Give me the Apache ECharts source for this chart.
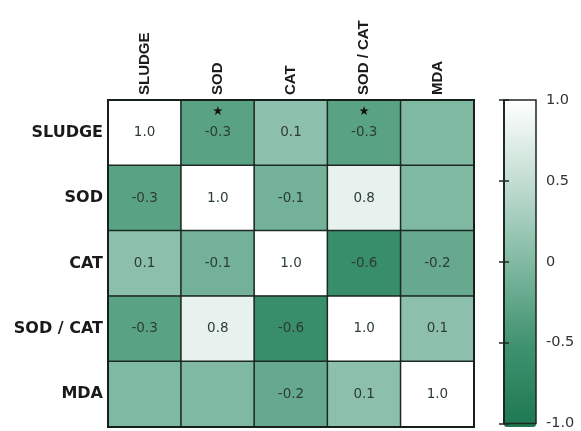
<!DOCTYPE html>
<html>
<head>
<meta charset="utf-8">
<script src="https://cdn.jsdelivr.net/npm/echarts@6/dist/echarts.min.js"></script>
<style>
  html, body { margin: 0; padding: 0; background: #ffffff; }
  #chart { width: 581px; height: 431px; }
</style>
</head>
<body>
<div id="chart"></div>
<script>
// Variables of the correlation matrix (rows top to bottom, columns left to right)
const variables = ['SLUDGE', 'SOD', 'CAT', 'SOD / CAT', 'MDA'];

// Correlation coefficients, one array per row
const rowSludge = [1.0, -0.3, 0.1, -0.3, 0.0];
const rowSod    = [-0.3, 1.0, -0.1, 0.8, 0.0];
const rowCat    = [0.1, -0.1, 1.0, -0.6, -0.2];
const rowSodCat = [-0.3, 0.8, -0.6, 1.0, 0.1];
const rowMda    = [0.0, 0.0, -0.2, 0.1, 1.0];
const corrRows = [rowSludge, rowSod, rowCat, rowSodCat, rowMda];

// Cells shown without a number, as [row, column]
const unlabeledCells = [[0, 4], [1, 4], [4, 0], [4, 1]];
// Cells flagged as significant, as [row, column]
const starredCells = [[0, 1], [0, 3]];

// Colour bar ticks
const barTicks = [-1.0, -0.5, 0, 0.5, 1.0];
const barTickLabels = ['-1.0', '-0.5', '0', '0.5', '1.0'];

const isIn = (list, r, c) => list.some(p => p[0] === r && p[1] === c);

const cells = [];
corrRows.forEach((row, r) => {
  row.forEach((v, c) => cells.push([c, r, v]));
});

const chart = echarts.init(document.getElementById('chart'), null, { renderer: 'canvas' });

const heatGrid = { left: 108, top: 100, width: 366, height: 327 };
const barGrid = { left: 504, top: 100, width: 32, height: 327 };

chart.setOption({
  animation: false,
  backgroundColor: '#ffffff',
  grid: [
    Object.assign({
      show: true, z: 10, backgroundColor: 'transparent',
      borderColor: '#17211c', borderWidth: 2
    }, heatGrid),
    Object.assign({
      show: true, z: 10, backgroundColor: 'transparent',
      borderColor: '#1e2622', borderWidth: 1.5
    }, barGrid)
  ],
  xAxis: [
    {
      type: 'category', gridIndex: 0, data: variables, position: 'top',
      axisLine: { show: false }, axisTick: { show: false },
      splitLine: { show: false },
      axisLabel: {
        rotate: -90, margin: 5, interval: 0,
        fontFamily: 'Liberation Sans', fontWeight: 'bold', fontSize: 15, color: '#1a1a1a'
      }
    },
    {
      type: 'value', gridIndex: 1, min: 0, max: 1, show: false
    }
  ],
  yAxis: [
    {
      type: 'category', gridIndex: 0, data: variables, inverse: true,
      axisLine: { show: false }, axisTick: { show: false },
      splitLine: { show: false },
      axisLabel: {
        margin: 5, interval: 0,
        fontFamily: 'DejaVu Sans', fontWeight: 'bold', fontSize: 16, color: '#1a1a1a'
      }
    },
    {
      type: 'value', gridIndex: 1, position: 'right', min: -1, max: 1, interval: 0.5, z: 10,
      axisLine: { show: true, lineStyle: { color: '#1e2622', width: 1.5 } },
      axisTick: { show: true, inside: true, length: 5, lineStyle: { color: '#1e2622', width: 1.5 } },
      splitLine: { show: false },
      axisLabel: {
        margin: 10, fontFamily: 'DejaVu Sans', fontSize: 14.5, color: '#333333',
        formatter: v => {
          const i = barTicks.findIndex(t => Math.abs(t - v) < 1e-9);
          return i >= 0 ? barTickLabels[i] : '';
        }
      }
    },
    {
      type: 'value', gridIndex: 1, position: 'left', min: -1, max: 1, interval: 0.5, z: 10,
      axisLine: { show: true, lineStyle: { color: '#1e2622', width: 1.5 } },
      axisTick: { show: true, inside: true, length: 5, lineStyle: { color: '#1e2622', width: 1.5 } },
      splitLine: { show: false },
      axisLabel: { show: false }
    }
  ],
  visualMap: {
    type: 'continuous',
    seriesIndex: 0,
    min: -1, max: 1,
    calculable: false,
    hoverLink: false,
    orient: 'vertical',
    left: barGrid.left, top: barGrid.top,
    itemWidth: barGrid.width, itemHeight: barGrid.height,
    padding: 0,
    text: null,
    showLabel: false,
    z: 2,
    inRange: { color: ['#1d7850', '#3f9270', '#80b9a2', '#c2ddd2', '#ffffff'] }
  },
  series: [{
    type: 'heatmap',
    xAxisIndex: 0, yAxisIndex: 0,
    data: cells,
    itemStyle: { borderColor: '#1c2a23', borderWidth: 1.5 },
    emphasis: { disabled: true },
    label: {
      show: true,
      formatter: p => {
        const c = p.value[0], r = p.value[1];
        if (isIn(unlabeledCells, r, c)) return '';
        const txt = p.value[2].toFixed(1);
        // starred values get a blank line underneath so the number stays centred
        if (isIn(starredCells, r, c)) return '{s|★}\n{v|' + txt + '}\n{v| }';
        return '{v|' + txt + '}';
      },
      rich: {
        v: { fontFamily: 'DejaVu Sans', fontSize: 13.5, color: '#2c3d35', lineHeight: 21 },
        s: { fontFamily: 'DejaVu Sans', fontSize: 12.5, color: '#111111', lineHeight: 21 }
      }
    }
  }]
});
</script>
</body>
</html>
